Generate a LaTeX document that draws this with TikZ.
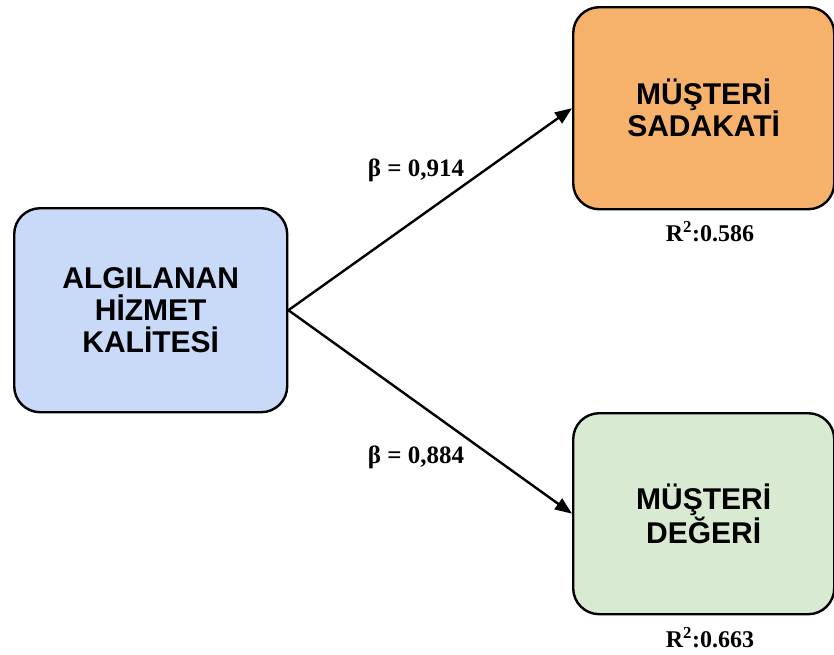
\documentclass[tikz,border=0pt]{standalone}
\usepackage{fontspec}
\setmainfont{Liberation Serif}
\newfontfamily\boxfont{Liberation Sans}
\usetikzlibrary{arrows.meta}
\definecolor{cblue}{HTML}{C9DAF8}
\definecolor{corange}{HTML}{F6B26B}
\definecolor{cgreen}{HTML}{D9EAD3}
\tikzset{
  box/.style={draw=black, line width=2.4pt, rounded corners=26pt, anchor=north west,
    inner sep=0pt, align=center, font=\boxfont\bfseries\fontsize{30}{32}\selectfont},
  conn/.style={line width=2.4pt, -{Triangle[length=17pt,width=13pt]}},
  lbl/.style={font=\bfseries\fontsize{25}{28}\selectfont, inner sep=0pt},
  rlbl/.style={font=\bfseries\fontsize{24}{27}\selectfont, inner sep=0pt}
}
\begin{document}
\begin{tikzpicture}[x=1pt,y=-1pt]
\useasboundingbox (0,0) rectangle (834,654);
\node[box, fill=cblue, minimum width=273pt, minimum height=204pt] (a) at (13,207) {ALGILANAN\\HİZMET\\KALİTESİ};
\node[box, fill=corange, minimum width=261pt, minimum height=202pt] (b) at (572,6) {MÜŞTERİ\\SADAKATİ};
\node[box, fill=cgreen, minimum width=261pt, minimum height=201pt] (c) at (572,412) {MÜŞTERİ\\DEĞERİ};
\draw[conn] (a.east) -- (b.west);
\draw[conn] (a.east) -- (c.west);
\node[lbl] (l1) at (416,170) {β = 0,914};
\node[lbl] (l2) at (416,457) {β = 0,884};
\node[rlbl] (r1) at (710,232) {R\textsuperscript{2}:0.586};
\node[rlbl] (r2) at (710,638) {R\textsuperscript{2}:0.663};
\end{tikzpicture}
\end{document}
